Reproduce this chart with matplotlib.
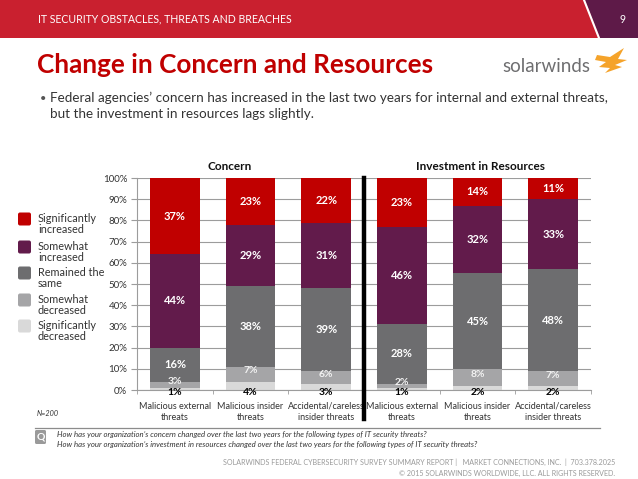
import matplotlib
matplotlib.use("Agg")
import matplotlib.pyplot as plt
from matplotlib.patches import Rectangle, FancyBboxPatch, Polygon
from matplotlib.lines import Line2D
import matplotlib.transforms as mtransforms
import numpy as np

plt.rcParams['font.family'] = ['Lato', 'DejaVu Sans']

# ---------------- data ----------------
categories = ["Malicious external\nthreats", "Malicious insider\nthreats",
              "Accidental/careless\ninsider threats",
              "Malicious external\nthreats", "Malicious insider\nthreats",
              "Accidental/careless\ninsider threats"]
groups = ["Concern", "Investment in Resources"]
series_names = ["Significantly\nincreased", "Somewhat\nincreased", "Remained the\nsame",
                "Somewhat\ndecreased", "Significantly\ndecreased"]
sig_dec = [1, 4, 3, 1, 2, 2]
some_dec = [3, 7, 6, 2, 8, 7]
same = [16, 38, 39, 28, 45, 48]
some_inc = [44, 29, 31, 46, 32, 33]
sig_inc = [37, 23, 22, 23, 14, 11]
yticks = [0, 10, 20, 30, 40, 50, 60, 70, 80, 90, 100]

c_sig_inc = "#C00000"
c_some_inc = "#621B4B"
c_same = "#6D6D6F"
c_some_dec = "#A5A5A7"
c_sig_dec = "#D9D9D9"

W, H = 638, 479
fig = plt.figure(figsize=(W / 100, H / 100), dpi=100)

# overlay axes in pixel coordinates
ov = fig.add_axes([0, 0, 1, 1], zorder=0)
ov.set_xlim(0, W)
ov.set_ylim(H, 0)
ov.axis("off")

# header band
ov.add_patch(Rectangle((0, 0), W, 38, color="#C9202F", lw=0))
ov.add_patch(Polygon([(585, 0), (W, 0), (W, 38), (600, 38)], closed=True, color="#5E1A48", lw=0))
ov.plot([584, 599], [0, 38], color="white", lw=1.5)
ov.text(38, 19, "IT SECURITY OBSTACLES, THREATS AND BREACHES", color="white",
        fontsize=7.6, va="center", ha="left")
ov.text(622, 19, "9", color="white", fontsize=7.6, va="center", ha="center")

# title
ov.text(37, 65, "Change in Concern and Resources", color="#C00000", fontsize=18.8,
        fontweight="bold", va="center", ha="left")

# logo
ov.text(590, 66, "solarwinds", color="#6E6E70", fontsize=13.5, va="center", ha="right")
ov.add_patch(Polygon([(597, 55), (610, 57), (624, 48), (618, 59), (627, 60), (615, 65),
                      (622, 67), (605, 73), (610, 68), (599, 67), (606, 62), (595, 60)],
                     closed=True, color="#F5A32A", lw=0))

# bullet
ov.text(40, 98, "•", color="#555555", fontsize=8, va="center", ha="left")
ov.text(50, 98, "Federal agencies’ concern has increased in the last two years for internal and external threats,",
        color="#333333", fontsize=9.7, va="center", ha="left")
ov.text(50, 114, "but the investment in resources lags slightly.",
        color="#333333", fontsize=9.7, va="center", ha="left")

# legend
leg_colors = [c_sig_inc, c_some_inc, c_same, c_some_dec, c_sig_dec]
leg_y = [219, 247, 273, 300, 326]
for col, name, yy in zip(leg_colors, series_names, leg_y):
    ov.add_patch(FancyBboxPatch((18, yy - 6.5), 13, 13, boxstyle="round,pad=0,rounding_size=2",
                                color=col, lw=0))
    ov.text(38, yy - 6, name, color="#333333", fontsize=7.8, va="top", ha="left",
            linespacing=0.95)

# section titles
ov.text(230, 167, groups[0], fontsize=8.5, fontweight="bold", ha="center", va="center", color="#111111")
ov.text(481, 167, groups[1], fontsize=8.5, fontweight="bold", ha="center", va="center", color="#111111")

# N and question
ov.text(37, 413, "N=200", fontsize=5.2, style="italic", color="#333333", va="center", ha="left")
ov.plot([35, 600], [428, 428], color="#8C8C8C", lw=0.9)
ov.add_patch(FancyBboxPatch((35, 430), 11, 14, boxstyle="round,pad=0,rounding_size=1.5",
                            color="#9A9A9A", lw=0))
ov.text(40.5, 437, "Q", color="white", fontsize=7.5, fontweight="bold", ha="center", va="center")
ov.text(57, 434, "How has your organization’s concern changed over the last two years for the following types of IT security threats?",
        fontsize=5.6, style="italic", color="#333333", va="center", ha="left")
ov.text(57, 444, "How has your organization’s investment in resources changed over the last two years for the following types of IT security threats?",
        fontsize=5.6, style="italic", color="#333333", va="center", ha="left")

# footer
ov.text(615, 462, "SOLARWINDS FEDERAL CYBERSECURITY SURVEY SUMMARY REPORT |   MARKET CONNECTIONS, INC.  |  703.378.2025",
        fontsize=5.1, color="#9A9A9A", va="center", ha="right")
ov.text(615, 473, "© 2015 SOLARWINDS WORLDWIDE, LLC. ALL RIGHTS RESERVED.",
        fontsize=5.1, color="#9A9A9A", va="center", ha="right")

# ---------------- chart ----------------
ax_l, ax_r, ax_t, ax_b = 137, 591, 178, 390
ax = fig.add_axes([ax_l / W, 1 - ax_b / H, (ax_r - ax_l) / W, (ax_b - ax_t) / H], zorder=1)
ax.set_facecolor("none")
x = np.arange(len(categories))
bw = 0.66

series = [sig_dec, some_dec, same, some_inc, sig_inc]
colors = [c_sig_dec, c_some_dec, c_same, c_some_inc, c_sig_inc]
bottom = np.zeros(len(categories))
for k, (vals, col) in enumerate(zip(series, colors)):
    vals = np.array(vals, dtype=float)
    ax.bar(x, vals, bw, bottom=bottom, color=col, zorder=2, lw=0)
    for i in range(len(categories)):
        lo = bottom[i]
        hi = min(bottom[i] + vals[i], 100)
        if k == 0:
            ax.text(x[i], -1.2, f"{int(vals[i])}%", ha="center", va="center", fontsize=7.5,
                    fontweight="bold", color="black", zorder=4, clip_on=False)
        elif k == 1:
            ax.text(x[i], (lo + hi) / 2 + 1.5, f"{int(vals[i])}%", ha="center", va="center",
                    fontsize=7.5, fontweight="bold", color="#F2F2F2", zorder=4)
        else:
            ax.text(x[i], (lo + hi) / 2, f"{int(vals[i])}%", ha="center", va="center", fontsize=8,
                    fontweight="bold", color="white", zorder=4)
    bottom = bottom + vals

ax.set_xlim(-0.5, len(categories) - 0.5)
ax.set_ylim(0, 100)
ax.set_yticks(yticks)
ax.set_yticklabels([f"{v}%" for v in yticks], fontsize=7, color="#333333")
ax.yaxis.grid(True, color="#9C9C9C", lw=0.8, zorder=0)
ax.set_axisbelow(True)
ax.set_xticks(x)
ax.set_xticklabels(categories, fontsize=6.5, color="#333333", linespacing=1.3)
ax.tick_params(axis="x", length=0, pad=8.5)
ax.set_xticks(np.arange(-0.5, len(categories), 1.0), minor=True)
ax.tick_params(axis="x", which="minor", length=3, color="#9C9C9C", direction="out")
ax.tick_params(axis="y", length=4, color="#9C9C9C", pad=3)
for s in ["top", "right"]:
    ax.spines[s].set_visible(False)
ax.spines["left"].set_color("#9C9C9C")
ax.spines["bottom"].set_color("#9C9C9C")

# group divider
trans = mtransforms.blended_transform_factory(ax.transData, ax.transAxes)
ax.add_line(Line2D([2.5, 2.5], [1.0, -0.135], transform=trans, color="black", lw=3.2,
                   clip_on=False, zorder=5))

fig.savefig("out.png", dpi=100)
